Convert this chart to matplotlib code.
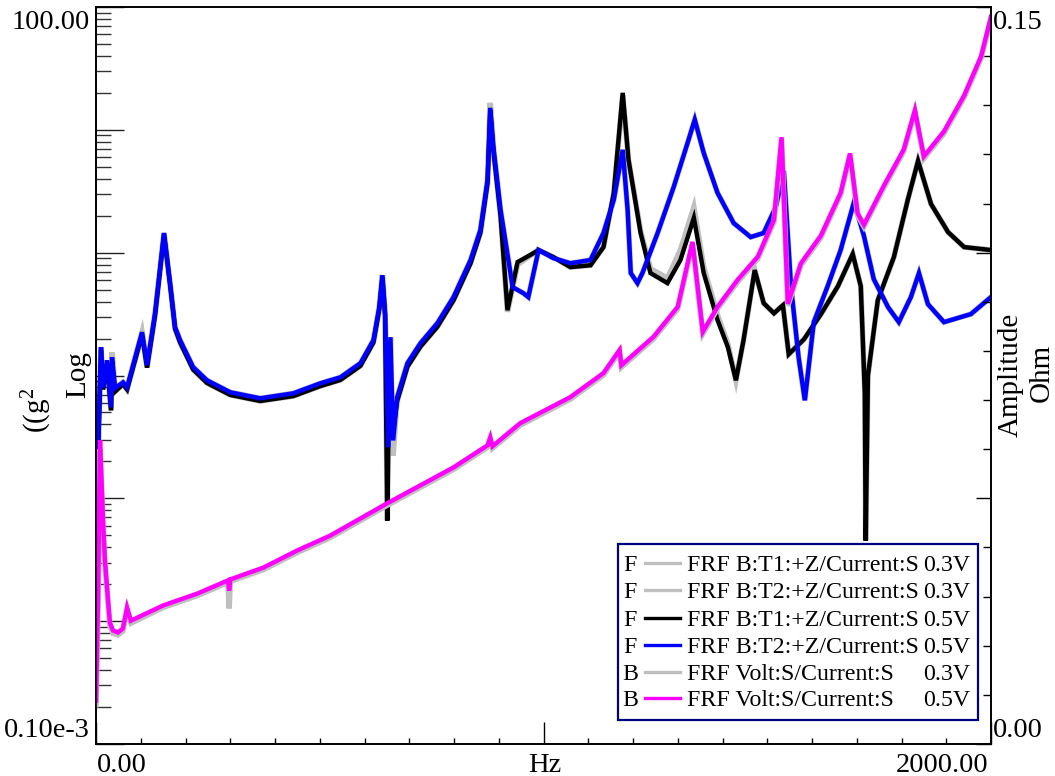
import matplotlib
matplotlib.use("Agg")
import matplotlib.pyplot as plt
from matplotlib.lines import Line2D
from matplotlib.patches import Rectangle
from matplotlib.ticker import FixedLocator, MultipleLocator, LogLocator, NullFormatter

plt.rcParams['font.family'] = ['Liberation Serif', 'DejaVu Serif']
plt.rcParams['mathtext.fontset'] = 'custom'
plt.rcParams['mathtext.rm'] = 'Liberation Serif'
plt.rcParams['mathtext.it'] = 'Liberation Serif:italic'

# ---- data -------------------------------------------------------------
# Accelerometer T1 / Current FRF (g^2 log scale), frequency in Hz
f_t1 = [0, 2.2, 11.2, 15.7, 24.6, 33.6, 35.8, 42.5, 60.4, 69.4, 102.9, 114.1,
        132, 152, 165.5, 176.7, 187.9, 217, 248, 300, 367, 441, 501, 546, 591,
        620, 633, 640, 646, 651, 656, 662, 673, 696, 725, 763, 799, 837, 859,
        875, 881, 888, 904, 919.5, 942, 978, 989, 1022, 1060, 1105, 1134, 1157,
        1177, 1190, 1217, 1239, 1277, 1306, 1336, 1358, 1389, 1412, 1430, 1447,
        1472, 1492, 1515, 1530, 1535, 1548, 1582, 1620, 1658, 1691, 1709, 1718,
        1720, 1725, 1747, 1783, 1814, 1837, 1866, 1904, 1940, 2000]
t1_05 = [5.5e-4, 0.0115, 0.16, 0.077, 0.125, 0.052, 0.13, 0.074, 0.085, 0.077,
         0.215, 0.116, 0.31, 1.40, 0.55, 0.24, 0.186, 0.112, 0.087, 0.0695,
         0.062, 0.068, 0.082, 0.092, 0.12, 0.186, 0.345, 0.63, 0.31, 0.0066,
         0.19, 0.032, 0.062, 0.118, 0.172, 0.25, 0.41, 0.82, 1.45, 3.7, 14.5,
         6.8, 2.0, 0.34, 0.838, 0.993, 1.05, 0.92, 0.763, 0.79, 1.11, 3.06,
         20.0, 5.69, 1.445, 0.682, 0.565, 0.871, 1.92, 0.682, 0.282, 0.170,
         0.0914, 0.194, 0.721, 0.388, 0.321, 0.360, 0.373, 0.149, 0.197, 0.316,
         0.534, 0.975, 0.534, 0.0716, 0.00453, 0.100, 0.410, 0.921, 2.69, 5.58,
         2.49, 1.47, 1.11, 1.05]
t1_03 = [5.5e-4, 0.0115, 0.16, 0.077, 0.125, 0.052, 0.14, 0.074, 0.085, 0.077,
         0.215, 0.116, 0.31, 1.40, 0.55, 0.24, 0.186, 0.112, 0.087, 0.0695,
         0.062, 0.068, 0.082, 0.092, 0.12, 0.186, 0.345, 0.63, 0.31, 0.0066,
         0.19, 0.030, 0.062, 0.118, 0.172, 0.25, 0.41, 0.82, 1.45, 3.7, 15.5,
         6.8, 2.0, 0.33, 0.80, 0.99, 1.05, 0.92, 0.763, 0.79, 1.11, 3.0,
         19.0, 5.69, 1.50, 0.74, 0.62, 1.05, 2.35, 0.76, 0.31, 0.180,
         0.0914, 0.194, 0.721, 0.388, 0.321, 0.360, 0.373, 0.149, 0.197, 0.316,
         0.534, 0.975, 0.534, 0.0716, 0.00453, 0.100, 0.410, 0.921, 2.69, 5.58,
         2.49, 1.47, 1.11, 1.05]

# Accelerometer T2 / Current FRF
f_t2 = [0, 2.2, 11.2, 15.7, 24.6, 33.6, 35.8, 42.5, 60.4, 69.4, 102.9, 114.1,
        132, 152, 165.5, 176.7, 187.9, 217, 248, 300, 367, 441, 501, 546, 591,
        620, 633, 640, 646, 653, 658, 664, 673, 696, 725, 763, 799, 837, 859,
        875, 881, 888, 904, 931, 955, 966, 989, 1022, 1060, 1105, 1134, 1157,
        1177, 1188, 1195, 1210, 1221, 1255, 1291, 1322, 1338, 1358, 1389, 1425,
        1463, 1492, 1519, 1537, 1553, 1570, 1584, 1604, 1635, 1664, 1694, 1716,
        1738, 1770, 1794, 1821, 1839, 1859, 1895, 1955, 2000]
t2_05 = [5.7e-4, 0.0122, 0.17, 0.080, 0.133, 0.055, 0.141, 0.0787, 0.088, 0.080,
         0.225, 0.121, 0.321, 1.445, 0.565, 0.247, 0.194, 0.117, 0.0914, 0.073,
         0.0652, 0.0716, 0.0863, 0.0966, 0.126, 0.194, 0.36, 0.656, 0.321, 0.026,
         0.205, 0.0296, 0.0664, 0.126, 0.183, 0.267, 0.435, 0.871, 1.53, 3.91,
         15.1, 7.26, 2.23, 0.524, 0.468, 0.435, 1.05, 0.903, 0.82, 0.871, 1.445,
         2.69, 6.87, 2.23, 0.682, 0.565, 0.682, 1.445, 3.43, 7.83, 12.1, 6.49,
         3.06, 1.74, 1.34, 1.445, 2.35, 4.63, 0.534, 0.141, 0.0628, 0.272, 0.534,
         1.05, 2.59, 1.37, 0.609, 0.360, 0.272, 0.435, 0.682, 0.381, 0.272,
         0.316, 0.435]
t2_03 = [5.7e-4, 0.0122, 0.17, 0.080, 0.133, 0.055, 0.155, 0.0787, 0.088, 0.080,
         0.225, 0.121, 0.321, 1.445, 0.565, 0.247, 0.194, 0.117, 0.0914, 0.073,
         0.0652, 0.0716, 0.0863, 0.0966, 0.126, 0.194, 0.36, 0.656, 0.321, 0.026,
         0.205, 0.0223, 0.0664, 0.126, 0.183, 0.267, 0.435, 0.871, 1.53, 3.91,
         16.6, 7.26, 2.23, 0.524, 0.468, 0.435, 1.05, 0.903, 0.82, 0.871, 1.445,
         2.69, 6.87, 2.23, 0.682, 0.565, 0.682, 1.445, 3.43, 7.83, 12.1, 6.49,
         3.06, 1.74, 1.34, 1.445, 2.35, 4.63, 0.534, 0.141, 0.0628, 0.272, 0.534,
         1.05, 2.59, 1.37, 0.609, 0.360, 0.272, 0.435, 0.682, 0.381, 0.272,
         0.316, 0.435]

# Voltage / Current FRF (Ohm, linear scale)
f_volt = [0, 4.5, 9, 15.7, 20, 27, 31, 38, 49, 60, 69.4, 78, 150, 226, 295,
          297.5, 300, 374, 450, 523, 651, 799, 875, 881, 886, 948, 1060, 1134,
          1170, 1174, 1246, 1300, 1333, 1356, 1389, 1434, 1479, 1515, 1532,
          1546, 1575, 1620, 1664, 1685, 1702, 1716, 1761, 1805, 1830, 1850,
          1895, 1940, 1978, 2000]
volt_05 = [0.0088, 0.0292, 0.0618, 0.0455, 0.0373, 0.0292, 0.0247, 0.0231,
           0.0227, 0.0235, 0.0278, 0.0251, 0.0282, 0.0306, 0.0333, 0.0312,
           0.0335, 0.0359, 0.0394, 0.0424, 0.0490, 0.0563, 0.0608, 0.0624,
           0.0606, 0.0653, 0.0706, 0.0755, 0.0802, 0.0771, 0.0829, 0.0890,
           0.1022, 0.0839, 0.0890, 0.0945, 0.0992, 0.1067, 0.1235, 0.0896,
           0.0978, 0.1035, 0.1122, 0.1202, 0.1080, 0.1057, 0.1137, 0.1210,
           0.1290, 0.1196, 0.1247, 0.1320, 0.1400, 0.1480]
volt_03 = [0.0080, 0.0280, 0.0600, 0.0440, 0.0365, 0.0285, 0.0240, 0.0225,
           0.0222, 0.0230, 0.0272, 0.0246, 0.0278, 0.0302, 0.0329, 0.0276,
           0.0331, 0.0355, 0.0390, 0.0420, 0.0486, 0.0559, 0.0604, 0.0620,
           0.0602, 0.0649, 0.0702, 0.0751, 0.0798, 0.0767, 0.0825, 0.0886,
           0.1018, 0.0835, 0.0886, 0.0941, 0.0988, 0.1063, 0.1231, 0.0892,
           0.0974, 0.1031, 0.1118, 0.1198, 0.1076, 0.1053, 0.1133, 0.1206,
           0.1286, 0.1192, 0.1243, 0.1316, 0.1396, 0.1476]

legend_tags = ['F', 'F', 'F', 'F', 'B', 'B']
legend_names = ['FRF B:T1:+Z/Current:S', 'FRF B:T2:+Z/Current:S',
                'FRF B:T1:+Z/Current:S', 'FRF B:T2:+Z/Current:S',
                'FRF Volt:S/Current:S', 'FRF Volt:S/Current:S']
legend_levels = ['0.3V', '0.3V', '0.5V', '0.5V', '0.3V', '0.5V']

GRAY = '#bfbfbf'
BLUE = '#0000ff'
MAGENTA = '#ff00ff'
legend_colors = [GRAY, GRAY, 'black', BLUE, GRAY, MAGENTA]

# ---- figure -----------------------------------------------------------
W, H = 1055, 776
fig = plt.figure(figsize=(W / 100, H / 100), dpi=100)


def px(x, y):
    """Pixel position -> figure fraction."""
    return x / W, 1 - y / H


ax = fig.add_axes([96 / W, 1 - 744 / H, (991 - 96) / W, (744 - 7) / H])
ax.set_xlim(0, 2000)
ax.set_yscale('log')
ax.set_ylim(1e-4, 100)

LW_GRAY, LW = 4.0, 3.2
ax.plot(f_t1, t1_03, color=GRAY, lw=LW_GRAY, zorder=1, solid_joinstyle='miter')
ax.plot(f_t2, t2_03, color=GRAY, lw=LW_GRAY, zorder=1, solid_joinstyle='miter')
ax.plot(f_t1, t1_05, color='black', lw=LW, zorder=2, solid_joinstyle='miter')
ax.plot(f_t2, t2_05, color=BLUE, lw=LW, zorder=3, solid_joinstyle='miter')

ax2 = ax.twinx()
ax2.set_ylim(0, 0.15)
ax2.plot(f_volt, volt_03, color=GRAY, lw=LW_GRAY, solid_joinstyle='miter')
ax2.plot(f_volt, volt_05, color=MAGENTA, lw=LW, solid_joinstyle='miter')

# ---- axes / ticks -----------------------------------------------------
for a in (ax, ax2):
    for s in a.spines.values():
        s.set_linewidth(1.2)

ax.xaxis.set_major_locator(FixedLocator([0, 1000, 2000]))
ax.xaxis.set_minor_locator(MultipleLocator(100))
ax.xaxis.set_major_formatter(NullFormatter())
ax.tick_params(axis='x', which='major', direction='in', length=16, width=1.0,
               top=False, labelbottom=False)
ax.tick_params(axis='x', which='minor', direction='in', length=4.5, width=1.0,
               top=False)

ax.yaxis.set_major_locator(LogLocator(base=10, numticks=20))
ax.yaxis.set_minor_locator(LogLocator(base=10, subs=range(2, 10), numticks=20))
ax.yaxis.set_major_formatter(NullFormatter())
ax.yaxis.set_minor_formatter(NullFormatter())
ax.tick_params(axis='y', which='major', direction='in', length=20, width=1.0,
               right=False, labelleft=False, color='#222222')
ax.tick_params(axis='y', which='minor', direction='in', length=10.8, width=1.0,
               right=False, color='#333333')

ax2.yaxis.set_major_locator(MultipleLocator(0.05))
ax2.yaxis.set_minor_locator(MultipleLocator(0.01))
ax2.yaxis.set_major_formatter(NullFormatter())
ax2.tick_params(axis='y', which='major', direction='in', length=11, width=1.0,
                labelright=False)
ax2.tick_params(axis='y', which='minor', direction='in', length=6, width=1.0)

FS = 20.5
fig.text(*px(90, 10), '100.00', ha='right', va='top', fontsize=FS)
fig.text(*px(90, 737), '0.10e-3', ha='right', va='baseline', fontsize=FS)
fig.text(*px(993, 10), '0.15', ha='left', va='top', fontsize=FS)
fig.text(*px(993, 737), '0.00', ha='left', va='baseline', fontsize=FS)
fig.text(*px(97, 772), '0.00', ha='left', va='baseline', fontsize=FS)
fig.text(*px(988, 772), '2000.00', ha='right', va='baseline', fontsize=FS)
fig.text(*px(545, 772), 'Hz', ha='center', va='baseline', fontsize=FS)

fig.text(*px(78, 375), 'Log', rotation=90, ha='center', va='center', fontsize=21)
fig.text(*px(37, 410), '((g$^{2}$', rotation=90, ha='center', va='center', fontsize=21)
fig.text(*px(1011, 375), 'Amplitude', rotation=90, ha='center', va='center', fontsize=21)
fig.text(*px(1042, 373), 'Ohm', rotation=90, ha='center', va='center', fontsize=21)

# ---- legend box -------------------------------------------------------
x0, y0 = px(618, 720)
fig.add_artist(Rectangle((x0, y0), 360 / W, 176 / H, transform=fig.transFigure,
                         facecolor='white', edgecolor='#000080', lw=1.6, zorder=10))
rows = [563, 590, 618, 645, 672, 698]
LFS = 17.2
for yrow, tag, name, lev, col in zip(rows, legend_tags, legend_names,
                                     legend_levels, legend_colors):
    yb = yrow + 8
    fig.text(*px(630, yb), tag, ha='center', va='baseline', fontsize=LFS, zorder=11)
    fig.add_artist(Line2D([645 / W, 680 / W], [1 - yrow / H] * 2,
                          transform=fig.transFigure, color=col, lw=2.4, zorder=11))
    fig.text(*px(687, yb), name, ha='left', va='baseline', fontsize=LFS, zorder=11)
    fig.text(*px(970, yb), lev, ha='right', va='baseline', fontsize=LFS, zorder=11)

fig.savefig('out.png', dpi=100)
